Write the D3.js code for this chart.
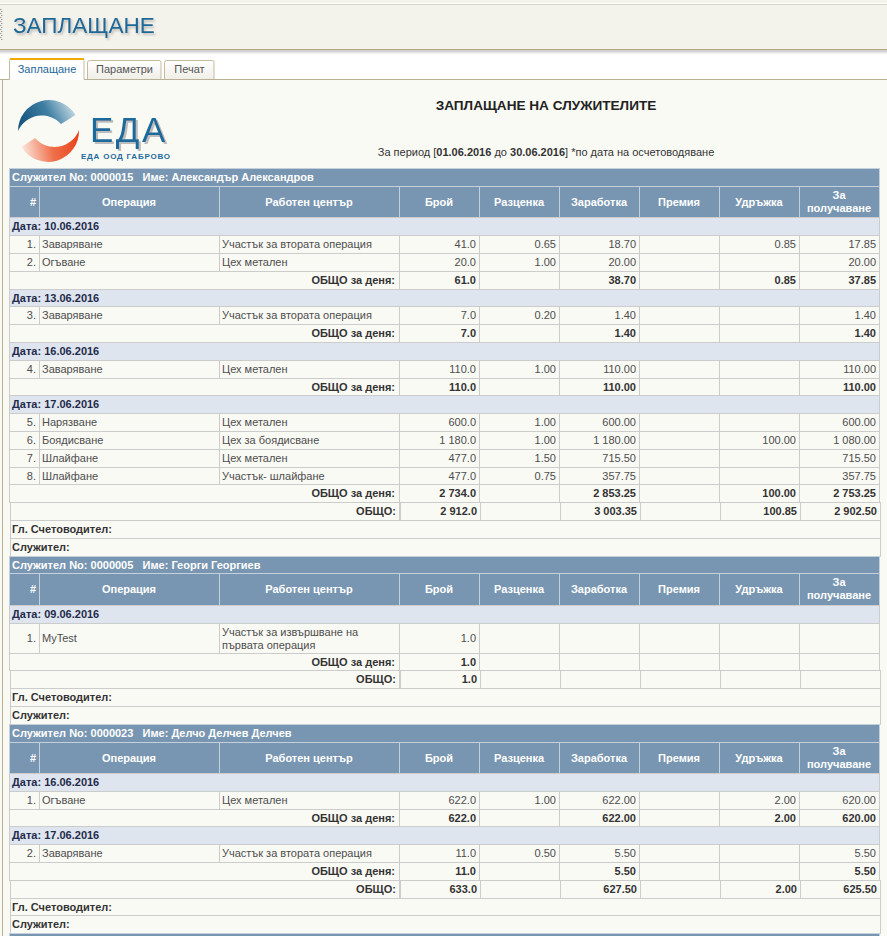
<!DOCTYPE html>
<html><head><meta charset="utf-8">
<script src="https://cdn.jsdelivr.net/npm/d3@7/dist/d3.min.js"></script>
<style>
body{margin:0;background:#fafaf5;}
svg{display:block;font-family:"Liberation Sans",Arial,sans-serif;}
text{white-space:pre;}
</style></head><body><svg id="c" width="887" height="936"></svg>
<script>
// ---------- data ----------
const pageTitle = "ЗАПЛАЩАНЕ";
const tabs = ["Заплащане", "Параметри", "Печат"];
const reportTitle = "ЗАПЛАЩАНЕ НА СЛУЖИТЕЛИТЕ";
const logoText = "ЕДА";
const logoSub = "ЕДА ООД ГАБРОВО";
const period = ["01.06.2016", "30.06.2016"];
const columns = ["#", "Операция", "Работен център", "Брой", "Разценка", "Заработка", "Премия", "Удръжка", "За получаване"];
const employeeIds = ["0000015", "0000005", "0000023"];
const employeeNames = ["Александър Александров", "Георги Георгиев", "Делчо Делчев Делчев"];

const rowEmployee = [0, 0, 0, 0, 0, 0, 0, 0, 1, 2, 2];
const rowDate = ["10.06.2016", "10.06.2016", "13.06.2016", "16.06.2016", "17.06.2016", "17.06.2016", "17.06.2016", "17.06.2016", "09.06.2016", "16.06.2016", "17.06.2016"];
const rowNo = [1, 2, 3, 4, 5, 6, 7, 8, 1, 1, 2];
const rowOperation = ["Заваряване", "Огъване", "Заваряване", "Заваряване", "Нарязване", "Боядисване", "Шлайфане", "Шлайфане", "MyTest", "Огъване", "Заваряване"];
const rowCenter = ["Участък за втората операция", "Цех метален", "Участък за втората операция", "Цех метален", "Цех метален", "Цех за боядисване", "Цех метален", "Участък- шлайфане", "Участък за извършване на първата операция", "Цех метален", "Участък за втората операция"];
const rowCount = [41, 20, 7, 110, 600, 1180, 477, 477, 1, 622, 11];
const rowRate = [0.65, 1.00, 0.20, 1.00, 1.00, 1.00, 1.50, 0.75, null, 1.00, 0.50];
const rowEarned = [18.70, 20.00, 1.40, 110.00, 600.00, 1180.00, 715.50, 357.75, null, 622.00, 5.50];
const rowBonus = [null, null, null, null, null, null, null, null, null, null, null];
const rowDeduction = [0.85, null, null, null, null, 100.00, null, null, null, 2.00, null];
const rowNet = [17.85, 20.00, 1.40, 110.00, 600.00, 1080.00, 715.50, 357.75, null, 620.00, 5.50];

// ---------- helpers ----------
const fmt = (v, d) => {
  if (v == null) return "";
  const [i, f] = v.toFixed(d).split(".");
  return i.replace(/\B(?=(\d{3})+(?!\d))/g, " ") + "." + f;
};
const sumOf = (arr, idx) => {
  const vals = idx.map(i => arr[i]).filter(v => v != null);
  return vals.length ? d3.sum(vals) : null;
};

const svg = d3.select("#c");
const defs = svg.append("defs");
const W = 887, H = 936;

// ---------- page chrome ----------
svg.append("rect").attr("x", 0).attr("y", 0).attr("width", W).attr("height", H).attr("fill", "#fafaf5");
svg.append("rect").attr("x", 0).attr("y", 0).attr("width", W).attr("height", 50).attr("fill", "#f3f2eb");
svg.append("rect").attr("x", 0).attr("y", 3).attr("width", W).attr("height", 1).attr("fill", "#ffffff");
svg.append("rect").attr("x", 0).attr("y", 4).attr("width", W).attr("height", 1).attr("fill", "#d2d0c8");
svg.append("rect").attr("x", 0).attr("y", 50).attr("width", W).attr("height", 30).attr("fill", "#ffffff");
svg.append("rect").attr("x", 0).attr("y", 49).attr("width", W).attr("height", 1.5).attr("fill", "#b3aa8c");
const sh = defs.append("linearGradient").attr("id", "shadow").attr("x1", 0).attr("x2", 0).attr("y1", 0).attr("y2", 1);
sh.append("stop").attr("offset", 0).attr("stop-color", "#c9c9cc");
sh.append("stop").attr("offset", 1).attr("stop-color", "#ffffff");
svg.append("rect").attr("x", 0).attr("y", 50.5).attr("width", W).attr("height", 4).attr("fill", "url(#shadow)");
// dotted grip
d3.range(9, 41, 2).forEach((y, k) => {
  svg.append("rect").attr("x", k % 2 ? 1 : 0).attr("y", y).attr("width", 1.5).attr("height", 1).attr("fill", "#9a9a9a");
});
const ds = defs.append("filter").attr("id", "ds").attr("x", "-10%").attr("y", "-30%").attr("width", "130%").attr("height", "170%");
ds.append("feDropShadow").attr("dx", 1.5).attr("dy", 2).attr("stdDeviation", 1).attr("flood-color", "#777").attr("flood-opacity", 0.45);
const ds2 = defs.append("filter").attr("id", "ds2").attr("x", "-10%").attr("y", "-20%").attr("width", "130%").attr("height", "150%");
ds2.append("feDropShadow").attr("dx", 2).attr("dy", 2).attr("stdDeviation", 0.4).attr("flood-color", "#bdbdbd").attr("flood-opacity", 1);
svg.append("text").attr("x", 13).attr("y", 33).attr("font-size", 22.5).attr("fill", "#1d6797")
  .attr("filter", "url(#ds)").text(pageTitle);

// tabs
const tg = defs.append("linearGradient").attr("id", "tabg").attr("x1", 0).attr("x2", 0).attr("y1", 0).attr("y2", 1);
tg.append("stop").attr("offset", 0).attr("stop-color", "#ffffff");
tg.append("stop").attr("offset", 1).attr("stop-color", "#efeee6");
const tabX = [9, 87, 164], tabW = [75, 74, 50];
tabs.forEach((t, k) => {
  const active = k === 0;
  const top = active ? 58.5 : 60.5;
  svg.append("path")
    .attr("d", `M${tabX[k] + 0.5},79.5 V${top + 2} Q${tabX[k] + 0.5},${top} ${tabX[k] + 2.5},${top} H${tabX[k] + tabW[k] - 2} Q${tabX[k] + tabW[k]},${top} ${tabX[k] + tabW[k]},${top + 2} V79.5`)
    .attr("fill", active ? "#ffffff" : "url(#tabg)").attr("stroke", "#c4bb9e");
  if (active) svg.append("rect").attr("x", tabX[k] + 1).attr("y", 58).attr("width", tabW[k] - 1).attr("height", 2).attr("fill", "#f1a800");
  svg.append("text").attr("x", tabX[k] + tabW[k] / 2 + 0.5).attr("y", 73).attr("text-anchor", "middle")
    .attr("font-size", 11).attr("fill", active ? "#1d6797" : "#555").text(t);
});
svg.append("path").attr("d", `M0,79.5 H${tabX[0] + 0.5} M${tabX[0] + tabW[0]},79.5 H${W}`).attr("stroke", "#b9b197").attr("fill", "none");
svg.append("path").attr("d", `M2.5,79.5 V${H}`).attr("stroke", "#b9b197");

// ---------- logo ----------
const bg = defs.append("linearGradient").attr("id", "blueG").attr("x1", 0).attr("x2", 1).attr("y1", 0.3).attr("y2", 0);
bg.append("stop").attr("offset", 0).attr("stop-color", "#1a5a82");
bg.append("stop").attr("offset", 0.45).attr("stop-color", "#3f7fa3");
bg.append("stop").attr("offset", 1).attr("stop-color", "#e4eef2");
const rg = defs.append("linearGradient").attr("id", "redG").attr("x1", 1).attr("x2", 0).attr("y1", 0.2).attr("y2", 0.3);
rg.append("stop").attr("offset", 0).attr("stop-color", "#e8421a");
rg.append("stop").attr("offset", 0.5).attr("stop-color", "#ef6f4a");
rg.append("stop").attr("offset", 1).attr("stop-color", "#fbe2d8");
svg.append("path").attr("d", "M18,131 A31,31 0 0 1 75.5,115 L61,124 A26,26 0 0 0 18,131 Z").attr("fill", "url(#blueG)");
svg.append("path").attr("d", "M79,130 A31,31 0 0 1 21.5,147 L35,138 A26,26 0 0 0 79,130 Z").attr("fill", "url(#redG)");
svg.append("text").attr("x", 90).attr("y", 142).attr("font-size", 35).attr("letter-spacing", 2.5).attr("fill", "#1f6b9b")
  .attr("filter", "url(#ds2)").text(logoText);
svg.append("text").attr("x", 81).attr("y", 159).attr("font-size", 8).attr("font-weight", "bold").attr("fill", "#1f6b9b")
  .attr("textLength", 89).attr("lengthAdjust", "spacing").text(logoSub);

// ---------- report titles ----------
svg.append("text").attr("x", 546).attr("y", 110).attr("text-anchor", "middle").attr("font-size", 13.6).attr("font-weight", "bold").attr("fill", "#222").text(reportTitle);
const sub = svg.append("text").attr("x", 546).attr("y", 156).attr("text-anchor", "middle").attr("font-size", 11).attr("fill", "#333");
sub.append("tspan").text("За период [");
sub.append("tspan").attr("font-weight", "bold").text(period[0]);
sub.append("tspan").text(" до ");
sub.append("tspan").attr("font-weight", "bold").text(period[1]);
sub.append("tspan").text("] *по дата на осчетоводяване");

// ---------- table layout ----------
const colW = [30, 180, 180, 80, 80, 80, 80, 80, 80];
const colStart = [];
colW.reduce((a, w) => { colStart.push(a); return a + w; }, 9);
const xCol = d3.scaleOrdinal().domain(d3.range(columns.length)).range(colStart);
const tableRight = 9 + d3.sum(colW);

const layout = [];
employeeIds.forEach((id, e) => {
  layout.push({ type: "emp", e });
  layout.push({ type: "head" });
  const idx = d3.range(rowEmployee.length).filter(i => rowEmployee[i] === e);
  const dates = [...new Set(idx.map(i => rowDate[i]))];
  dates.forEach(dt => {
    layout.push({ type: "date", dt });
    const di = idx.filter(i => rowDate[i] === dt);
    di.forEach(i => layout.push({ type: "row", i }));
    layout.push({ type: "day", idx: di });
  });
  layout.push({ type: "total", idx });
  layout.push({ type: "sig", label: "Гл. Счетоводител:" });
  layout.push({ type: "sig", label: "Служител:" });
});
layout.push({ type: "emp", e: null });

const ROW = 17.8, HEAD = 31.5, TALL = 30;
const tbl = svg.append("g").attr("shape-rendering", "crispEdges");
const txt = svg.append("g");

// text measurement for wrapping
const meas = svg.append("text").attr("font-size", 11).attr("visibility", "hidden");
const wrap = (s, w) => {
  const words = s.split(" "); const lines = []; let cur = "";
  words.forEach(wd => {
    const t = cur ? cur + " " + wd : wd;
    meas.text(t);
    if (meas.node().getComputedTextLength() > w && cur) { lines.push(cur); cur = wd; } else cur = t;
  });
  lines.push(cur);
  return lines;
};

const cellRect = (x, y, w, h, fill, stroke) => tbl.append("rect")
  .attr("x", x + 0.5).attr("y", y + 0.5).attr("width", w).attr("height", h)
  .attr("fill", fill).attr("stroke", stroke);
const label = (x, y, s, o = {}) => txt.append("text").attr("x", x).attr("y", y)
  .attr("font-size", 11).attr("text-anchor", o.anchor || "start")
  .attr("font-weight", o.bold ? "bold" : null).attr("fill", o.fill || "#4d4d4d").text(s);

const valueCols = [rowCount, rowRate, rowEarned, rowBonus, rowDeduction, rowNet];
const decimals = [1, 2, 2, 2, 2, 2];

let y = 168;
layout.forEach(r => {
  const wrapped = r.type === "row" ? wrap(rowCenter[r.i], colW[2] - 8) : null;
  const h = r.type === "head" ? HEAD : (wrapped && wrapped.length > 1 ? TALL : ROW);
  const y0 = Math.round(y), hh = Math.round(y + h) - y0;
  const mid = y0 + hh / 2 + 4;
  if (r.type === "emp") {
    cellRect(9, y0, tableRight - 9, hh, "#7896b1", "#c4d0dc");
    if (r.e != null) label(12, mid, `Служител No: ${employeeIds[r.e]}   Име: ${employeeNames[r.e]}`, { bold: true, fill: "#ffffff" });
  } else if (r.type === "head") {
    columns.forEach((c, k) => {
      cellRect(xCol(k), y0, colW[k], hh, "#7896b1", "#c4d0dc");
      const cx = k === 0 ? xCol(k) + colW[k] - 3 : xCol(k) + colW[k] / 2;
      const anchor = k === 0 ? "end" : "middle";
      const parts = c === "За получаване" ? ["За", "получаване"] : [c];
      parts.forEach((p, j) => label(cx, parts.length > 1 ? y0 + 13 + j * 12.5 : mid, p, { bold: true, fill: "#ffffff", anchor }));
    });
  } else if (r.type === "date") {
    cellRect(9, y0, tableRight - 9, hh, "#dfe5ee", "#cccccc");
    label(12, mid, `Дата: ${r.dt}`, { bold: true, fill: "#1f2b4b" });
  } else if (r.type === "row") {
    const i = r.i;
    columns.forEach((c, k) => cellRect(xCol(k), y0, colW[k], hh, "#fafaf5", "#cccccc"));
    label(xCol(0) + colW[0] - 3, mid, rowNo[i] + ".", { anchor: "end" });
    label(xCol(1) + 3, mid, rowOperation[i]);
    wrapped.forEach((ln, j) => label(xCol(2) + 3, mid + (j - (wrapped.length - 1) / 2) * 13, ln));
    valueCols.forEach((arr, v) => label(xCol(v + 3) + colW[v + 3] - 3, mid, fmt(arr[i], decimals[v]), { anchor: "end" }));
  } else if (r.type === "day" || r.type === "total") {
    const off = r.type === "total" ? 1 : 0;
    cellRect(9 + off, y0, colW[0] + colW[1] + colW[2] - off, hh, "#fafaf5", "#cccccc");
    d3.range(3, columns.length).forEach(k => cellRect(xCol(k) + off, y0, colW[k], hh, "#fafaf5", "#cccccc"));
    label(xCol(3) - 4 + off, mid, r.type === "day" ? "ОБЩО за деня:" : "ОБЩО:", { bold: true, fill: "#333", anchor: "end" });
    valueCols.forEach((arr, v) => {
      if (v === 1) return;
      label(xCol(v + 3) + colW[v + 3] - 3 + off, mid, fmt(sumOf(arr, r.idx), decimals[v]), { anchor: "end", bold: true, fill: "#333" });
    });
  } else if (r.type === "sig") {
    cellRect(10, y0, tableRight - 9, hh, "#fafaf5", "#cccccc");
    label(12, mid, r.label, { bold: true, fill: "#333" });
  }
  y += h;
});
meas.remove();
</script></body></html>
